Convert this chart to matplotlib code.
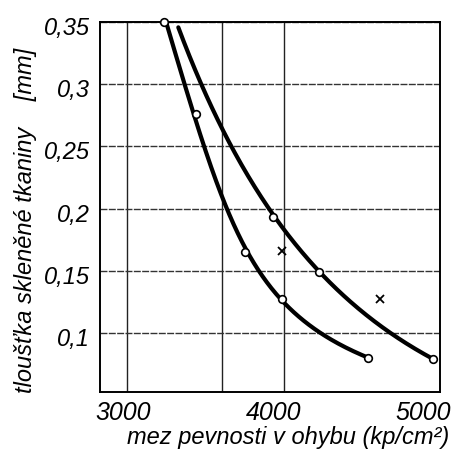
import matplotlib
matplotlib.use("Agg")
import matplotlib.pyplot as plt
import matplotlib.transforms as mtrans
import numpy as np

# Curve A (lower / left curve) traced points
curve_a_x = [3236, 3377, 3439, 3509, 3615, 3754, 3988, 4244, 4542]
curve_a_y = [0.350, 0.2994, 0.276, 0.2493, 0.2005, 0.165, 0.1277, 0.1006, 0.0797]
# measured circles on curve A
pts_a_x = [3236, 3439, 3754, 3988, 4542]
pts_a_y = [0.350, 0.276, 0.165, 0.1277, 0.0797]

# Curve B (upper / right curve) traced points
curve_b_x = [3328, 3477, 3641, 3765, 3935, 4063, 4229, 4617, 4957]
curve_b_y = [0.3457, 0.2996, 0.2546, 0.2292, 0.193, 0.1756, 0.1488, 0.1059, 0.0791]
pts_b_x = [3935, 4229, 4957]
pts_b_y = [0.193, 0.1488, 0.0791]

# cross markers
cross_x = [3988, 4617]
cross_y = [0.1662, 0.1277]

xticks = [3000, 4000, 5000]
xtick_labels = ["3000", "4000", "5000"]
yticks = [0.1, 0.15, 0.2, 0.25, 0.3, 0.35]
ytick_labels = ["0,1", "0,15", "0,2", "0,25", "0,3", "0,35"]
vgrid = [3000, 3605, 4000]

font = "Liberation Sans"
fig = plt.figure(figsize=(4.56, 4.64), dpi=100)
ax = fig.add_axes([100/456, 71/464, 340/456, 370/464])
ax.set_xlim(2827, 5000)
ax.set_ylim(0.0526, 0.35)

for v in vgrid:
    ax.axvline(v, color="#222222", lw=1.0, zorder=1)
for t in yticks:
    ax.axhline(t, color="#333333", lw=1.0, ls=(0, (5, 1)), zorder=1)

def fitted(xs, ys, deg=3, n=300):
    # smooth curve x = f(log y), least-squares through the traced points
    xs = np.asarray(xs, float); ys = np.asarray(ys, float)
    v = np.log(ys)
    c = np.polyfit(v, xs, deg)
    vv = np.linspace(v.min(), v.max(), n)
    return np.polyval(c, vv), np.exp(vv)

sx, sy = fitted(curve_a_x, curve_a_y)
ax.plot(sx, sy, color="black", lw=3.0, zorder=3, solid_capstyle="round", clip_on=False)
sx, sy = fitted(curve_b_x, curve_b_y)
ax.plot(sx, sy, color="black", lw=3.0, zorder=3, solid_capstyle="round", clip_on=False)

ax.plot(pts_a_x, pts_a_y, "o", ms=5.5, mfc="white", mec="black", mew=1.2, zorder=4, clip_on=False)
ax.plot(pts_b_x, pts_b_y, "o", ms=5.5, mfc="white", mec="black", mew=1.2, zorder=4, clip_on=False)
ax.plot(cross_x, cross_y, "x", ms=6, color="black", mew=1.3, zorder=4)

ax.set_xticks(xticks)
ax.set_xticklabels(xtick_labels, fontfamily=font, fontstyle="italic", fontsize=18)
ax.set_yticks(yticks)
ax.set_yticklabels(ytick_labels, fontfamily=font, fontstyle="italic", fontsize=17)
ax.tick_params(axis="x", length=0, pad=6)
ax.tick_params(axis="y", length=0, pad=7)
for lab, dx in zip(ax.get_xticklabels(), [-4, -10, -17]):
    lab.set_transform(lab.get_transform() + mtrans.ScaledTranslation(dx/100, 0, fig.dpi_scale_trans))
for lab in ax.get_yticklabels():
    lab.set_transform(lab.get_transform() + mtrans.ScaledTranslation(0, -3/100, fig.dpi_scale_trans))

for sp in ax.spines.values():
    sp.set_linewidth(1.4)

ax.set_xlabel("mez pevnosti v ohybu (kp/cm²)", fontfamily=font, fontstyle="italic", fontsize=17)
ax.xaxis.set_label_coords(0.553, -0.089)
ax.set_ylabel("tloušťka skleněné tkaniny    [mm]", fontfamily=font, fontstyle="italic", fontsize=17)
ax.yaxis.set_label_coords(-0.185, 0.4676)

fig.savefig("out.png", dpi=100)
